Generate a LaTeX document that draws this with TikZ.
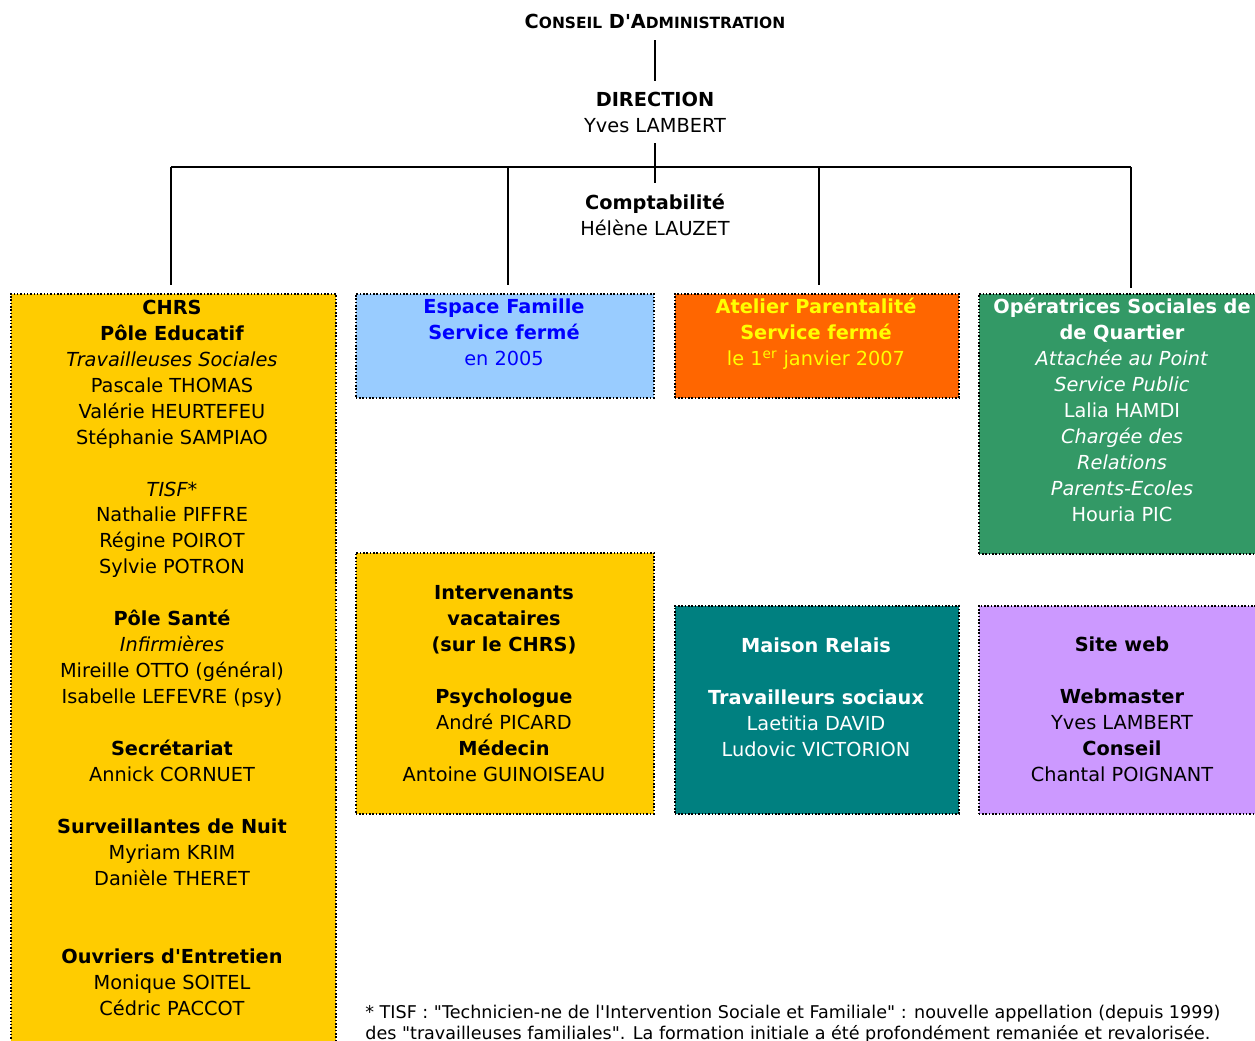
\documentclass[tikz,border=0pt]{standalone}
\usepackage{fontspec}
\setmainfont{DejaVu Sans}[Ligatures=TeXOff]
\usetikzlibrary{calc}

\definecolor{chrsyellow}{HTML}{FFCC00}
\definecolor{famblue}{HTML}{99CCFF}
\definecolor{famtext}{HTML}{0000FF}
\definecolor{atelorange}{HTML}{FF6600}
\definecolor{ateltext}{HTML}{FFFF00}
\definecolor{quartgreen}{HTML}{339966}
\definecolor{relaisteal}{HTML}{008080}
\definecolor{weblilac}{HTML}{CC99FF}

% faux small caps for the title
\newcommand{\fauxsc}[1]{{\fontsize{8.8pt}{10pt}\selectfont #1}}

\begin{document}
\begin{tikzpicture}[x=0.02cm, y=-0.02cm,
    box/.style={draw=black, densely dotted, line width=0.9pt,
        anchor=north west, inner sep=0pt},
    txt/.style={align=center, anchor=base, inner sep=0pt,
        font=\fontsize{11pt}{14.77pt}\selectfont},
    head/.style={txt, outer sep=0.22cm},
    note/.style={align=left, anchor=base west, inner sep=0pt,
        font=\fontsize{10pt}{11.4pt}\selectfont},
    link/.style={line width=0.9pt}]

    \useasboundingbox (0,0) rectangle (1255,1041);

    % Top of the chart (multi-line nodes sit on their last line)
    \node[head] (conseil) at (655,29)
        {\textbf{C\fauxsc{ONSEIL} D'A\fauxsc{DMINISTRATION}}};
    \node[head] (direction) at (655,132)
        {\textbf{DIRECTION}\\Yves LAMBERT};
    \node[head] (compta) at (655,235)
        {\textbf{Comptabilité}\\Hélène LAUZET};

    % Coloured boxes, corners given in pixels of the page
    \node[box, fill=chrsyellow, minimum width=6.5cm, minimum height=15.4cm]
        (chrs) at (10,293) {};
    \node[box, fill=famblue, minimum width=5.96cm, minimum height=2.08cm]
        (espace) at (355,293) {};
    \node[box, fill=atelorange, minimum width=5.68cm, minimum height=2.08cm]
        (atelier) at (674,293) {};
    \node[box, fill=quartgreen, minimum width=5.8cm, minimum height=5.2cm]
        (quartier) at (978,293) {};
    \node[box, fill=chrsyellow, minimum width=5.96cm, minimum height=5.22cm]
        (vacat) at (355,552) {};
    \node[box, fill=relaisteal, minimum width=5.68cm, minimum height=4.16cm]
        (relais) at (674,605) {};
    \node[box, fill=weblilac, minimum width=5.8cm, minimum height=4.16cm]
        (siteweb) at (978,605) {};

    % Texts of the boxes
    \node[txt] (chrsT) at (172,1015)
        {\textbf{CHRS}\\\textbf{Pôle Educatif}\\\textit{Travailleuses Sociales}\\
        Pascale THOMAS\\Valérie HEURTEFEU\\Stéphanie SAMPIAO\\[\baselineskip]
        \textit{TISF*}\\Nathalie PIFFRE\\Régine POIROT\\Sylvie POTRON\\[\baselineskip]
        \textbf{Pôle Santé}\\\textit{Infirmières}\\Mireille OTTO (général)\\
        Isabelle LEFEVRE (psy)\\[\baselineskip]
        \textbf{Secrétariat}\\Annick CORNUET\\[\baselineskip]
        \textbf{Surveillantes de Nuit}\\Myriam KRIM\\Danièle THERET\\[2\baselineskip]
        \textbf{Ouvriers d'Entretien}\\Monique SOITEL\\Cédric PACCOT};
    \node[txt, text=famtext] (espaceT) at (504,365)
        {\textbf{Espace Famille}\\\textbf{Service fermé}\\en 2005};
    \node[txt, text=ateltext] (atelierT) at (816,365)
        {\textbf{Atelier Parentalité}\\\textbf{Service fermé}\\
        le 1\textsuperscript{er} janvier 2007};
    \node[txt, text=white] (quartierT) at (1122,521)
        {\textbf{Opératrices Sociales de}\\\textbf{de Quartier}\\
        \textit{Attachée au Point}\\\textit{Service Public}\\Lalia HAMDI\\
        \textit{Chargée des}\\\textit{Relations}\\\textit{Parents-Ecoles}\\Houria PIC};
    \node[txt] (vacatT) at (504,781)
        {\textbf{Intervenants}\\\textbf{vacataires}\\\textbf{(sur le CHRS)}\\[\baselineskip]
        \textbf{Psychologue}\\André PICARD\\\textbf{Médecin}\\Antoine GUINOISEAU};
    \node[txt, text=white] (relaisT) at (816,756)
        {\textbf{Maison Relais}\\[\baselineskip]
        \textbf{Travailleurs sociaux}\\Laetitia DAVID\\Ludovic VICTORION};
    \node[txt] (sitewebT) at (1122,781)
        {\textbf{Site web}\\[\baselineskip]
        \textbf{Webmaster}\\Yves LAMBERT\\\textbf{Conseil}\\Chantal POIGNANT};

    % Footnote
    \node[note] (tisf) at (365,1039)
        {* TISF : "Technicien-ne de l'Intervention Sociale et Familiale" : nouvelle appellation (depuis 1999)\\
        des "travailleuses familiales". La formation initiale a été profondément remaniée et revalorisée.};

    % Connectors
    \coordinate (hL) at (171,167);
    \coordinate (hR) at (1131,167);
    \coordinate (dB) at (508,167);
    \coordinate (dC) at (819,167);

    \begin{scope}[link]
        \draw (conseil) -- (direction);
        \draw (direction) -- (compta);
        \draw (hL) -- (hR);
        \draw[shorten >=0.16cm] (hL) -- (hL |- chrs.north);
        \draw[shorten >=0.16cm] (dB) -- (dB |- espace.north);
        \draw[shorten >=0.16cm] (dC) -- (dC |- atelier.north);
        \draw[shorten >=0.1cm] (hR) -- (hR |- quartier.north);
    \end{scope}

\end{tikzpicture}
\end{document}
